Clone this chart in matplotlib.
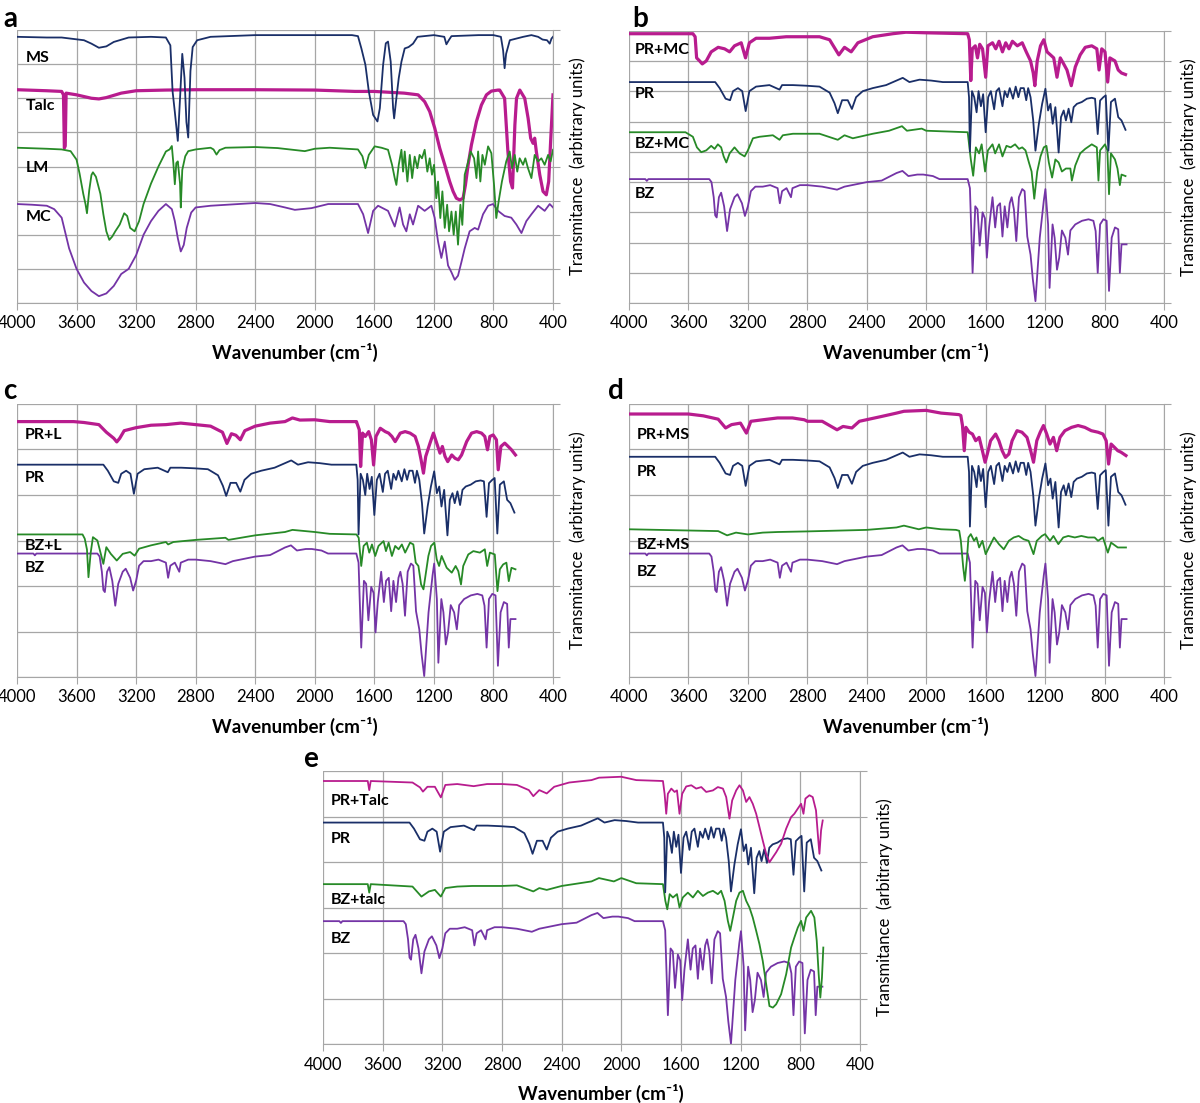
import numpy as np
import matplotlib.pyplot as plt

plt.rcParams['font.family'] = ['Lato', 'DejaVu Sans']

W, H = 1200, 1103

MAGENTA = '#B81C8E'
NAVY = '#1A2F68'
GREEN = '#278A27'
PURPLE = '#7434A6'
GRID = '#A6A6A6'

# ---------------- panel a (absolute values, 8 grid divisions) ----------------
MS = [(4000, 7.8), (3800, 7.78), (3700, 7.78), (3550, 7.7), (3500, 7.6), (3450, 7.48),
      (3400, 7.52), (3350, 7.65), (3250, 7.78), (3100, 7.8), (3000, 7.78), (2970, 7.55),
      (2955, 6.2), (2940, 5.6), (2920, 4.75), (2905, 6.0), (2890, 7.3), (2875, 6.6),
      (2862, 5.3), (2850, 4.85), (2835, 6.8), (2820, 7.5), (2790, 7.7), (2700, 7.8),
      (2400, 7.85), (2000, 7.85), (1750, 7.85), (1710, 7.82), (1687, 7.46), (1660, 6.98),
      (1637, 6.2), (1608, 5.51), (1579, 5.32), (1563, 5.71), (1541, 6.98), (1523, 7.61),
      (1508, 7.66), (1490, 7.07), (1474, 5.71), (1467, 5.41), (1452, 6.0), (1436, 6.59),
      (1418, 7.07), (1396, 7.46), (1370, 7.5), (1340, 7.6), (1310, 7.8), (1200, 7.85),
      (1130, 7.8), (1116, 7.58), (1100, 7.7), (1082, 7.82), (900, 7.85), (800, 7.85),
      (750, 7.8), (735, 7.4), (725, 6.88), (715, 7.3), (690, 7.7), (600, 7.8), (545, 7.85),
      (500, 7.8), (470, 7.72), (440, 7.7), (422, 7.6), (410, 7.75), (400, 7.8)]

TALC = [(4000, 6.25), (3800, 6.22), (3700, 6.2), (3688, 6.1), (3682, 4.54), (3676, 4.6),
        (3670, 6.15), (3600, 6.1), (3500, 6.0), (3450, 5.98), (3400, 6.02), (3300, 6.15),
        (3200, 6.22), (3000, 6.24), (2800, 6.25), (2400, 6.25), (2000, 6.24), (1730, 6.2),
        (1600, 6.2), (1400, 6.15), (1306, 6.1), (1262, 5.9), (1228, 5.61), (1194, 5.12),
        (1161, 4.54), (1127, 4.05), (1094, 3.56), (1071, 3.27), (1049, 3.07), (1026, 3.02),
        (1004, 3.07), (988, 3.46), (970, 4.05), (948, 4.63), (914, 5.32), (881, 5.8),
        (847, 6.1), (814, 6.21), (769, 6.24), (758, 6.24), (725, 6.0), (703, 4.44),
        (685, 3.56), (672, 3.37), (656, 5.22), (645, 6.0), (623, 6.24), (590, 6.0),
        (567, 5.41), (550, 4.83), (534, 4.68), (523, 4.83), (512, 4.44), (489, 3.76),
        (467, 3.27), (445, 3.17), (429, 3.56), (416, 4.73), (400, 6.1)]

LM = [(4000, 4.55), (3800, 4.52), (3700, 4.5), (3640, 4.45), (3600, 4.2), (3580, 3.8),
      (3555, 3.2), (3540, 2.9), (3530, 2.63), (3515, 3.3), (3500, 3.75), (3490, 3.83),
      (3470, 3.7), (3440, 3.2), (3420, 2.6), (3400, 2.1), (3380, 1.85), (3360, 1.95),
      (3340, 2.1), (3310, 2.3), (3280, 2.63), (3260, 2.55), (3240, 2.2), (3210, 2.1),
      (3180, 2.4), (3150, 2.9), (3100, 3.5), (3050, 4.0), (3000, 4.44), (2975, 4.5),
      (2960, 4.6), (2950, 4.1), (2940, 3.48), (2930, 4.1), (2920, 4.15), (2905, 3.5),
      (2900, 2.8), (2890, 3.9), (2870, 4.3), (2850, 4.45), (2800, 4.5), (2700, 4.55),
      (2680, 4.5), (2660, 4.35), (2640, 4.48), (2600, 4.55), (2400, 4.57), (2250, 4.54),
      (2067, 4.45), (2000, 4.52), (1900, 4.55), (1710, 4.5), (1680, 4.3), (1660, 3.95),
      (1637, 4.34), (1598, 4.59), (1552, 4.55), (1508, 4.49), (1481, 4.05), (1463, 3.66),
      (1452, 3.46), (1436, 4.05), (1418, 4.49), (1407, 3.85), (1396, 4.44), (1378, 3.56),
      (1362, 4.34), (1346, 3.66), (1329, 4.29), (1311, 3.95), (1296, 4.34), (1280, 4.24),
      (1262, 4.49), (1244, 3.85), (1228, 4.24), (1213, 3.76), (1199, 4.05), (1184, 3.07),
      (1172, 3.56), (1157, 2.49), (1143, 3.27), (1127, 2.2), (1111, 2.88), (1098, 2.1),
      (1082, 2.68), (1067, 2.0), (1053, 2.68), (1038, 1.71), (1022, 2.88), (1009, 2.29),
      (993, 3.76), (975, 4.05), (953, 4.44), (930, 4.24), (914, 3.66), (903, 4.44),
      (888, 3.56), (874, 4.34), (858, 4.05), (836, 4.59), (814, 4.39), (796, 3.46),
      (781, 2.49), (765, 2.98), (743, 3.56), (714, 4.15), (691, 4.44), (675, 3.95),
      (657, 4.34), (640, 3.85), (624, 4.24), (601, 4.05), (586, 4.24), (568, 3.95),
      (545, 3.66), (523, 4.34), (500, 4.15), (478, 4.24), (456, 4.05), (433, 4.34),
      (416, 4.15), (400, 4.49)]

MC = [(4000, 2.9), (3900, 2.88), (3800, 2.85), (3750, 2.75), (3700, 2.5), (3650, 1.6),
      (3600, 1.0), (3550, 0.6), (3500, 0.35), (3450, 0.2), (3400, 0.28), (3350, 0.5),
      (3300, 0.85), (3250, 1.0), (3200, 1.4), (3150, 2.0), (3100, 2.4), (3050, 2.7),
      (3000, 2.9), (2960, 2.75), (2940, 2.4), (2920, 1.9), (2900, 1.51), (2880, 1.7),
      (2860, 2.2), (2830, 2.65), (2800, 2.8), (2700, 2.85), (2400, 2.93), (2300, 2.9),
      (2200, 2.8), (2134, 2.73), (2022, 2.78), (1910, 2.9), (1710, 2.9), (1675, 2.6),
      (1642, 2.05), (1608, 2.7), (1575, 2.85), (1508, 2.7), (1463, 2.24), (1430, 2.8),
      (1407, 2.3), (1385, 2.1), (1362, 2.6), (1340, 2.3), (1306, 2.85), (1262, 2.7),
      (1217, 2.85), (1195, 2.5), (1172, 1.8), (1150, 1.32), (1127, 1.8), (1105, 1.1),
      (1082, 0.9), (1060, 0.68), (1038, 0.8), (1015, 1.2), (993, 1.6), (960, 2.1),
      (926, 2.2), (903, 2.15), (870, 2.6), (836, 2.85), (803, 2.9), (769, 2.7),
      (725, 2.55), (680, 2.5), (646, 2.3), (612, 2.05), (579, 2.4), (545, 2.6),
      (500, 2.85), (456, 2.7), (422, 2.9), (400, 2.8)]

# ------------- panels b-e: spectra relative to their own baseline -------------
PR = [(4000, 0), (3420, 0), (3390, -0.2), (3350, -0.55), (3320, -0.6), (3300, -0.3),
      (3267, -0.2), (3238, -0.3), (3215, -0.96), (3190, -0.3), (3145, -0.15), (3055, -0.1),
      (2987, -0.25), (2970, -0.1), (2897, -0.1), (2808, -0.12), (2718, -0.15), (2650, -0.35),
      (2617, -0.7), (2595, -1.03), (2566, -0.6), (2528, -0.6), (2500, -0.89), (2472, -0.5),
      (2427, -0.3), (2360, -0.2), (2270, -0.1), (2158, 0.14), (2113, 0.0), (2045, 0.08),
      (1967, 0.05), (1888, 0.0), (1721, 0.0), (1712, -0.5), (1706, -2.3), (1692, -0.3),
      (1677, -0.5), (1661, -1.0), (1648, -0.3), (1632, -0.8), (1617, -0.4), (1600, -1.66),
      (1583, -0.5), (1565, -0.3), (1543, -0.9), (1528, -0.3), (1510, -0.2), (1487, -0.8),
      (1472, -0.3), (1454, -0.5), (1438, -0.2), (1416, -0.55), (1398, -0.15), (1380, -0.5),
      (1365, -0.2), (1343, -0.2), (1327, -0.6), (1314, -0.2), (1298, -0.5), (1280, -1.27),
      (1265, -2.27), (1242, -1.38), (1220, -0.72), (1198, -0.22), (1180, -0.94),
      (1164, -0.72), (1149, -1.38), (1131, -0.83), (1109, -2.33), (1093, -1.16),
      (1075, -0.94), (1060, -1.27), (1042, -0.88), (1024, -1.33), (1008, -0.83),
      (986, -0.72), (953, -0.66), (919, -0.55), (886, -0.52), (864, -0.55), (846, -1.72),
      (830, -0.61), (808, -0.5), (792, -0.44), (774, -2.27), (757, -0.66), (730, -0.55),
      (708, -1.16), (686, -1.27), (659, -1.58)]

BZ = [(4000, 0), (3890, 0), (3880, -0.06), (3870, 0), (3460, 0), (3445, -0.1),
      (3430, -0.6), (3420, -1.2), (3410, -1.27), (3395, -0.6), (3380, -0.45), (3360, -0.9),
      (3340, -1.72), (3320, -1.0), (3290, -0.6), (3270, -0.5), (3240, -0.8), (3220, -1.22),
      (3200, -0.9), (3180, -0.4), (3150, -0.25), (3100, -0.25), (3050, -0.2), (3000, -0.3),
      (2985, -0.8), (2970, -0.4), (2940, -0.3), (2910, -0.6), (2900, -0.3), (2850, -0.2),
      (2800, -0.2), (2700, -0.25), (2600, -0.35), (2550, -0.25), (2500, -0.2), (2400, -0.1),
      (2300, -0.05), (2200, 0.2), (2160, 0.27), (2120, 0.1), (2060, 0.15), (2020, 0.15),
      (1955, 0.1), (1911, 0.0), (1721, 0.0), (1706, -0.3), (1688, -3.1), (1670, -0.9),
      (1655, -1.0), (1640, -2.2), (1621, -1.1), (1605, -1.3), (1592, -2.6), (1577, -1.6),
      (1554, -0.6), (1536, -1.6), (1521, -0.9), (1503, -0.8), (1487, -1.9), (1472, -0.9),
      (1454, -1.6), (1438, -0.8), (1425, -0.6), (1410, -1.0), (1394, -2.05), (1376, -0.6),
      (1354, -0.33), (1338, -0.4), (1320, -1.9), (1298, -2.5), (1283, -3.3), (1265, -4.04),
      (1236, -1.94), (1209, -0.72), (1198, -0.33), (1180, -1.5), (1170, -3.6), (1150, -1.5),
      (1136, -1.94), (1120, -3.0), (1105, -2.6), (1087, -1.7), (1064, -1.94), (1046, -2.5),
      (1030, -1.7), (997, -1.5), (952, -1.38), (908, -1.33), (875, -1.38), (860, -1.72),
      (846, -3.1), (830, -1.5), (808, -1.33), (786, -1.38), (770, -3.7), (752, -1.94),
      (730, -1.6), (708, -1.66), (697, -3.1), (686, -2.16), (652, -2.16)]

PR_MC = [(4000, 0), (3570, 0), (3555, -0.1), (3545, -0.8), (3525, -0.9), (3507, -1.0),
         (3480, -0.9), (3447, -0.6), (3400, -0.45), (3357, -0.5), (3323, -0.6), (3290, -0.4),
         (3245, -0.3), (3216, -0.8), (3190, -0.3), (3145, -0.15), (3055, -0.15), (2942, -0.1),
         (2830, -0.1), (2718, -0.1), (2650, -0.2), (2588, -0.7), (2550, -0.45), (2505, -0.6),
         (2460, -0.3), (2360, -0.1), (2225, 0.0), (2136, 0.05), (2000, 0.03), (1721, 0.0),
         (1710, -0.2), (1700, -1.55), (1690, -0.5), (1670, -0.4), (1655, -0.8), (1640, -0.35),
         (1621, -0.5), (1600, -1.44), (1585, -0.4), (1554, -0.3), (1532, -0.5), (1510, -0.25),
         (1487, -0.6), (1465, -0.3), (1443, -0.5), (1420, -0.25), (1387, -0.4), (1354, -0.3),
         (1327, -0.6), (1298, -0.9), (1280, -1.3), (1269, -1.72), (1253, -0.9), (1231, -0.4),
         (1209, -0.2), (1187, -0.6), (1164, -0.7), (1142, -0.8), (1120, -1.44), (1098, -0.8),
         (1075, -1.0), (1053, -1.2), (1024, -1.72), (997, -1.1), (964, -0.7), (930, -0.45),
         (886, -0.4), (852, -0.5), (837, -1.2), (819, -0.5), (797, -0.6), (779, -1.6),
         (764, -0.8), (730, -0.9), (708, -1.2), (686, -1.3), (659, -1.35)]

BZ_MC = [(4000, 0), (3620, 0), (3570, -0.15), (3543, -0.5), (3514, -0.66), (3480, -0.6),
         (3447, -0.45), (3424, -0.55), (3402, -0.4), (3380, -0.5), (3363, -0.8), (3345, -1.0),
         (3323, -0.7), (3290, -0.5), (3256, -0.7), (3222, -0.8), (3200, -0.6), (3166, -0.2),
         (3122, -0.15), (3032, -0.1), (2987, -0.25), (2965, -0.1), (2897, -0.05), (2718, -0.05),
         (2595, -0.25), (2550, -0.1), (2494, -0.2), (2360, -0.05), (2250, 0.05), (2163, 0.2),
         (2130, 0.05), (2030, 0.12), (2000, 0.05), (1721, 0.0), (1700, -0.9), (1684, -1.44),
         (1666, -0.5), (1644, -0.7), (1627, -0.4), (1604, -1.3), (1585, -0.6), (1554, -0.4),
         (1536, -0.7), (1510, -0.4), (1487, -0.8), (1460, -0.45), (1432, -0.5), (1402, -0.4),
         (1376, -0.55), (1354, -0.5), (1332, -0.6), (1309, -1.0), (1291, -1.3), (1273, -2.2),
         (1253, -1.3), (1231, -0.8), (1209, -0.5), (1191, -0.45), (1175, -1.0), (1153, -1.5),
         (1131, -0.9), (1109, -1.0), (1087, -1.3), (1060, -1.2), (1030, -1.2), (1020, -1.6),
         (997, -1.1), (964, -0.7), (930, -0.55), (886, -0.4), (852, -0.5), (841, -1.6),
         (830, -0.6), (797, -0.4), (781, -0.6), (770, -2.05), (757, -0.7), (730, -0.9),
         (713, -1.2), (697, -1.75), (686, -1.4), (659, -1.45)]

PR_L = [(4000, 0), (3620, 0), (3550, -0.03), (3450, -0.1), (3400, -0.35), (3350, -0.55),
        (3330, -0.67), (3310, -0.55), (3280, -0.3), (3200, -0.2), (3100, -0.12), (3000, -0.1),
        (2900, -0.05), (2800, -0.1), (2700, -0.15), (2620, -0.35), (2590, -0.72), (2560, -0.4),
        (2530, -0.45), (2500, -0.6), (2470, -0.3), (2400, -0.15), (2300, -0.05), (2200, 0.0),
        (2150, 0.12), (2100, 0.05), (2000, 0.06), (1900, 0.0), (1720, 0.0), (1717, -0.05),
        (1701, -0.27), (1692, -1.48), (1679, -0.38), (1661, -0.49), (1638, -0.33), (1620, -0.6),
        (1605, -1.43), (1589, -0.49), (1560, -0.22), (1527, -0.33), (1504, -0.38), (1482, -0.49),
        (1460, -0.66), (1426, -0.38), (1393, -0.33), (1360, -0.38), (1326, -0.49), (1304, -0.82),
        (1286, -1.26), (1270, -1.7), (1255, -1.15), (1226, -0.71), (1203, -0.38), (1181, -0.71),
        (1159, -1.04), (1143, -0.82), (1125, -1.15), (1107, -1.32), (1080, -1.1), (1058, -1.21),
        (1036, -1.26), (1014, -1.1), (980, -0.66), (947, -0.38), (913, -0.33), (880, -0.38),
        (858, -0.49), (840, -0.93), (824, -0.49), (802, -0.44), (780, -0.6), (768, -1.59),
        (750, -0.82), (724, -0.71), (701, -0.82), (679, -0.93), (652, -1.1)]

BZ_L = [(4000, 0), (3560, 0), (3545, -0.14), (3530, -0.5), (3520, -1.41), (3505, -0.6),
        (3490, -0.09), (3460, -0.2), (3420, -0.97), (3400, -0.42), (3370, -0.64), (3330, -0.86),
        (3290, -0.64), (3240, -0.58), (3210, -0.7), (3180, -0.47), (3100, -0.36), (3000, -0.25),
        (2985, -0.33), (2950, -0.25), (2800, -0.18), (2600, -0.11), (2580, -0.18), (2400, -0.03),
        (2200, 0.08), (2150, 0.15), (2000, 0.08), (1900, 0.02), (1720, 0.0), (1705, -0.11),
        (1688, -1.04), (1672, -0.38), (1650, -0.27), (1634, -0.6), (1616, -0.33), (1594, -0.71),
        (1572, -0.38), (1538, -0.22), (1522, -0.55), (1504, -0.27), (1482, -0.71), (1460, -0.38),
        (1437, -0.49), (1415, -0.33), (1393, -0.6), (1360, -0.27), (1338, -0.33), (1322, -0.93),
        (1304, -1.04), (1286, -1.65), (1270, -1.81), (1237, -0.71), (1219, -0.38), (1197, -0.27),
        (1181, -0.82), (1165, -1.04), (1148, -0.71), (1114, -1.1), (1080, -1.26), (1054, -1.04),
        (1036, -1.21), (1018, -1.65), (1003, -1.04), (969, -0.66), (935, -0.55), (891, -0.6),
        (858, -0.49), (842, -1.04), (824, -0.6), (791, -0.66), (773, -1.87), (757, -1.15),
        (735, -0.99), (713, -0.93), (697, -1.54), (679, -1.1), (652, -1.15)]

PR_MS = [(4000, 0), (3600, 0), (3500, -0.06), (3400, -0.17), (3350, -0.46), (3310, -0.35),
         (3250, -0.3), (3210, -0.63), (3180, -0.24), (3100, -0.19), (3000, -0.13), (2900, -0.13),
         (2820, -0.19), (2800, -0.24), (2700, -0.24), (2600, -0.52), (2560, -0.41), (2500, -0.46),
         (2450, -0.24), (2300, -0.08), (2200, 0.03), (2150, 0.09), (2000, 0.12), (1900, 0.03),
         (1780, -0.02), (1767, -0.05), (1756, -0.38), (1744, -1.21), (1733, -0.44), (1711, -0.6),
         (1689, -0.66), (1667, -0.88), (1644, -0.77), (1622, -1.21), (1604, -1.59), (1589, -1.32),
         (1567, -0.88), (1533, -0.66), (1511, -0.88), (1489, -1.21), (1467, -1.43), (1444, -1.32),
         (1422, -0.88), (1389, -0.55), (1356, -0.6), (1322, -0.77), (1300, -1.15), (1278, -1.59),
         (1256, -0.88), (1233, -0.6), (1211, -0.38), (1189, -0.66), (1167, -0.99), (1144, -0.77),
         (1122, -1.21), (1100, -0.77), (1067, -0.55), (1022, -0.44), (978, -0.38), (933, -0.44),
         (889, -0.55), (844, -0.6), (811, -0.66), (789, -0.88), (773, -1.65), (756, -0.99),
         (733, -1.1), (711, -1.21), (689, -1.26), (656, -1.37)]

BZ_MS = [(4000, 0), (3400, -0.06), (3340, -0.2), (3280, -0.11), (3200, -0.17), (3100, -0.11),
         (3000, -0.09), (2800, -0.07), (2400, -0.02), (2200, 0.06), (2150, 0.12), (2050, 0.0),
         (2000, 0.06), (1900, 0.0), (1800, -0.02), (1778, -0.05), (1767, -0.38), (1751, -1.26),
         (1740, -1.7), (1727, -1.04), (1716, -0.27), (1700, -0.16), (1678, -0.38), (1662, -0.27),
         (1644, -0.6), (1622, -0.38), (1600, -0.82), (1578, -0.6), (1544, -0.27), (1511, -0.49),
         (1478, -0.66), (1444, -0.38), (1411, -0.27), (1378, -0.22), (1344, -0.33), (1311, -0.38),
         (1278, -0.82), (1256, -0.38), (1222, -0.22), (1200, -0.16), (1167, -0.38), (1144, -0.22),
         (1111, -0.49), (1078, -0.27), (1044, -0.22), (1000, -0.27), (956, -0.22), (911, -0.27),
         (867, -0.27), (844, -0.38), (811, -0.27), (778, -0.77), (756, -0.44), (711, -0.6),
         (678, -0.6), (656, -0.6)]

PR_TALC = [(4000, 0), (3700, 0), (3690, -0.3), (3680, 0), (3400, -0.05), (3350, -0.21),
           (3330, -0.35), (3300, -0.19), (3250, -0.19), (3210, -0.54), (3180, -0.13),
           (3100, -0.1), (2990, -0.17), (2900, -0.1), (2800, -0.1), (2700, -0.13), (2620, -0.3),
           (2590, -0.5), (2550, -0.3), (2500, -0.41), (2450, -0.19), (2350, -0.05), (2200, 0.03),
           (2150, 0.11), (2000, 0.14), (1900, 0.03), (1721, 0.0), (1710, -0.42), (1699, -1.08),
           (1688, -0.42), (1665, -0.25), (1643, -0.36), (1627, -0.31), (1610, -1.08),
           (1592, -0.42), (1565, -0.18), (1531, -0.14), (1498, -0.25), (1464, -0.2), (1431, -0.36),
           (1386, -0.31), (1353, -0.2), (1319, -0.25), (1297, -0.53), (1275, -1.24), (1257, -0.64),
           (1230, -0.31), (1208, -0.14), (1185, -0.31), (1163, -0.69), (1141, -0.53),
           (1119, -0.75), (1096, -1.08), (1074, -1.52), (1052, -1.96), (1029, -2.4),
           (1007, -2.68), (984, -2.51), (962, -2.35), (929, -2.07), (895, -1.57), (862, -1.19),
           (840, -1.08), (817, -0.91), (795, -0.75), (779, -1.08), (766, -0.58), (739, -0.47),
           (717, -0.53), (695, -0.97), (683, -1.74), (672, -2.4), (661, -1.63), (650, -1.3)]

BZ_TALC = [(4000, 0), (3700, 0), (3690, -0.28), (3680, 0), (3400, -0.08), (3340, -0.41),
           (3290, -0.24), (3250, -0.19), (3210, -0.41), (3180, -0.13), (3100, -0.08),
           (3000, -0.06), (2800, -0.06), (2700, -0.04), (2590, -0.24), (2550, -0.13),
           (2500, -0.19), (2400, -0.06), (2200, 0.09), (2150, 0.2), (2050, 0.09), (2000, 0.2),
           (1900, 0.03), (1721, 0.0), (1705, -0.55), (1692, -0.83), (1676, -0.33), (1654, -0.44),
           (1627, -0.33), (1610, -0.77), (1588, -0.44), (1554, -0.28), (1520, -0.44),
           (1487, -0.22), (1453, -0.39), (1420, -0.28), (1386, -0.22), (1353, -0.33),
           (1331, -0.22), (1308, -0.55), (1286, -1.21), (1270, -1.54), (1252, -1.1), (1230, -0.55),
           (1208, -0.28), (1185, -0.22), (1163, -0.55), (1141, -0.77), (1119, -1.1),
           (1096, -1.54), (1074, -1.98), (1052, -2.53), (1029, -3.3), (1007, -4.02), (984, -4.07),
           (962, -3.96), (929, -3.63), (895, -2.97), (862, -2.09), (840, -1.76), (817, -1.43),
           (795, -1.21), (779, -1.54), (761, -1.1), (728, -0.88), (706, -1.1), (690, -1.87),
           (677, -2.97), (666, -3.74), (655, -3.08), (646, -2.09)]

# stacking offsets (baseline of each spectrum, plot height = 9 units)
BASE_B = {'PR+MC': 8.91, 'PR': 7.31, 'BZ+MC': 5.65, 'BZ': 4.1}
BASE_C = {'PR+L': 8.42, 'PR': 7.0, 'BZ+L': 4.7, 'BZ': 4.07}
BASE_D = {'PR+MS': 8.67, 'PR': 7.26, 'BZ+MS': 4.87, 'BZ': 4.07}
BASE_E = {'PR+Talc': 8.67, 'PR': 7.3, 'BZ+talc': 5.27, 'BZ': 4.05}

fig = plt.figure(figsize=(W / 100, H / 100), dpi=100)


def make_panel(box, ymax, ndiv, letter, letter_xy):
    l, t, r, b = box
    ax = fig.add_axes([l / W, 1 - b / H, (r - l) / W, (b - t) / H])
    ax.set_xlim(4000, 400)
    ax.set_ylim(0, ymax)
    ax.set_xticks(np.arange(4000, 399, -400))
    ax.set_yticks(np.linspace(0, ymax, ndiv + 1))
    ax.yaxis.tick_right()
    ax.set_yticklabels([])
    ax.grid(True, color=GRID, lw=0.9)
    ax.set_axisbelow(True)
    ax.spines['left'].set_visible(False)
    ax.spines['top'].set_visible(False)
    ax.spines['bottom'].set_color(GRID)
    ax.spines['right'].set_color(GRID)
    ax.tick_params(color=GRID, length=5, labelsize=12, pad=4)
    fig.text((l + r) / 2 / W + 0.008, 1 - (b + 49) / H, 'Wavenumber (cm⁻¹)',
             fontweight='bold', fontsize=13.5, ha='center', va='center')
    fig.text((r + 25) / W, 1 - (t + b) / 2 / H, 'Transmitance  (arbitrary units)',
             rotation=90, fontsize=12, ha='center', va='center')
    fig.text(letter_xy[0] / W, 1 - letter_xy[1] / H, letter, fontweight='bold',
             fontsize=20, ha='center', va='baseline')
    return ax


def draw(ax, pts, base, color, lw):
    wn = np.array([p[0] for p in pts], dtype=float)
    val = np.array([p[1] for p in pts], dtype=float) + base
    ax.plot(wn, val, color=color, lw=lw, solid_joinstyle='round')


def label(ax, x, y, text):
    ax.text(x, y, text, fontweight='bold', fontsize=11.5, ha='left', va='center')


THIN = 1.3
THICK = 2.3

# panel a
ax = make_panel((17, 30, 553, 303), 8, 8, 'a', (10, 27))
draw(ax, TALC, 0, MAGENTA, THICK)
draw(ax, MC, 0, PURPLE, THIN)
draw(ax, LM, 0, GREEN, THIN)
draw(ax, MS, 0, NAVY, THIN)
for name, y in [('MS', 7.19), ('Talc', 5.78), ('LM', 3.95), ('MC', 2.51)]:
    label(ax, 3938, y, name)

# panel b
ax = make_panel((629, 31, 1164, 303), 9, 9, 'b', (640, 27))
draw(ax, BZ, BASE_B['BZ'], PURPLE, THIN)
draw(ax, BZ_MC, BASE_B['BZ+MC'], GREEN, THIN)
draw(ax, PR, BASE_B['PR'], NAVY, THIN)
draw(ax, PR_MC, BASE_B['PR+MC'], MAGENTA, THICK)
for name, y in [('PR+MC', 8.36), ('PR', 6.92), ('BZ+MC', 5.26), ('BZ', 3.6)]:
    label(ax, 3962, y, name)

# panel c
ax = make_panel((17, 404, 553, 677), 9, 6, 'c', (10, 399))
draw(ax, BZ, BASE_C['BZ'], PURPLE, THIN)
draw(ax, BZ_L, BASE_C['BZ+L'], GREEN, THIN)
draw(ax, PR, BASE_C['PR'], NAVY, THIN)
draw(ax, PR_L, BASE_C['PR+L'], MAGENTA, THICK)
for name, y in [('PR+L', 7.98), ('PR', 6.55), ('BZ+L', 4.33), ('BZ', 3.58)]:
    label(ax, 3945, y, name)

# panel d
ax = make_panel((629, 404, 1164, 677), 9, 6, 'd', (616, 399))
draw(ax, BZ, BASE_D['BZ'], PURPLE, THIN)
draw(ax, BZ_MS, BASE_D['BZ+MS'], GREEN, THIN)
draw(ax, PR, BASE_D['PR'], NAVY, THIN)
draw(ax, PR_MS, BASE_D['PR+MS'], MAGENTA, THICK)
for name, y in [('PR+MS', 7.98), ('PR', 6.77), ('BZ+MS', 4.35), ('BZ', 3.45)]:
    label(ax, 3950, y, name)

# panel e
ax = make_panel((323, 771, 860, 1044), 9, 6, 'e', (311, 767))
draw(ax, BZ, BASE_E['BZ'], PURPLE, THIN)
draw(ax, BZ_TALC, BASE_E['BZ+talc'], GREEN, THIN)
draw(ax, PR, BASE_E['PR'], NAVY, THIN)
draw(ax, PR_TALC, BASE_E['PR+Talc'], MAGENTA, THIN)
for name, y in [('PR+Talc', 8.0), ('PR', 6.77), ('BZ+talc', 4.76), ('BZ', 3.47)]:
    label(ax, 3945, y, name)

fig.savefig('out.png', dpi=100)
